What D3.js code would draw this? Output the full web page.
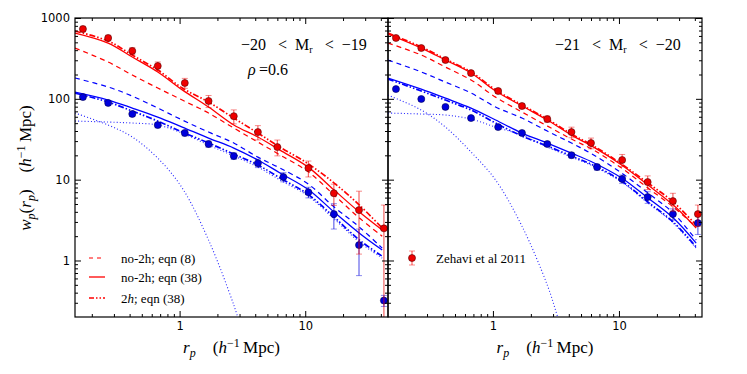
<script src="https://d3js.org/d3.v7.min.js"></script>

<svg id="vis"></svg>

<script>

  /***** DATA *****/

  // rp grid the model curves are read on (h^-1 Mpc)
  var rGrid = [0.147, 0.27, 0.42, 0.67, 1.05, 1.7, 2.7, 4.2, 6.3, 10.5, 17, 27, 41]

  // Zehavi et al 2011 points
  var rRed = [0.17, 0.27, 0.42, 0.67, 1.1, 1.7, 2.7, 4.2, 6.0, 10.6, 16.9, 26.8, 42.3]
  var rBlue = [0.17, 0.27, 0.42, 0.67, 1.1, 1.7, 2.7, 4.2, 6.7, 10.6, 16.9, 26.8, 42.3]

  // panel 1: -20 < Mr < -19
  var redObs1 = [731, 566, 391, 255, 157, 94, 61, 38.8, 25.3, 13.9, 6.8, 4.2, 2.5]
  var redErr1 = [58, 45, 39, 31, 22, 16, 12, 7.8, 5.6, 3.1, 2.0, 3.0, 2.35]
  var blueObs1 = [105, 89, 65, 47.4, 37.8, 27.6, 19.6, 16.0, 10.8, 7.0, 3.75, 1.55, 0.32]
  var blueErr1 = [5, 5, 4, 3.5, 3, 2.5, 1.8, 1.9, 1.4, 1.05, 1.3, 0.9, 0.05]

  var redDash1 = [425, 285, 197, 136, 96.6, 66.7, 43.5, 29.2, 20.2, 12.6, 6.45, 3.35, 2.0]
  var redSolid1 = [652, 490, 329, 215, 129, 79.2, 47.4, 33.7, 23.2, 14.4, 7.43, 3.97, 2.38]
  var redDdot1 = [690, 519, 348, 227, 136, 91.3, 57.8, 37.7, 25.3, 15.8, 9.08, 4.85, 2.52]
  var blueDash1 = [181, 140, 108, 76.9, 54.7, 38.8, 28.4, 19.0, 13.9, 8.9, 4.58, 2.59, 1.42]
  var blueSolid1 = [121, 96.6, 76.9, 59.5, 44.7, 32.7, 24.6, 17.5, 12.1, 7.6, 3.97, 2.18, 1.35]
  var blueDdot1 = [118, 91.3, 70.6, 53.1, 38.8, 28.4, 20.7, 15.2, 10.5, 6.6, 3.44, 1.79, 1.13]
  var blue2h1 = [53.1, 51.6, 50.2, 47.4, 37.7, 26.8, 19.6, 14.3, 9.89, 6.3, 3.26, 1.69, 1.07]
  var r1h1 = [0.147, 0.27, 0.42, 0.67, 1.05, 1.7, 2.7, 3.3]
  var blue1h1 = [66.7, 47.4, 33.7, 18.5, 7.87, 1.79, 0.281, 0.104]

  // panel 2: -21 < Mr < -20
  var redObs2 = [566, 425, 302, 208, 125, 81.5, 56.2, 38.8, 28.4, 17.5, 9.34, 5.43, 3.75]
  var redErr2 = [25, 20, 15, 12, 8, 6, 5, 5.8, 4.3, 3.0, 1.8, 1.35, 1.1]
  var blueObs2 = [132, 99.5, 79.4, 57.8, 44.7, 37.8, 27.6, 20.1, 14.3, 10.2, 6.09, 3.75, 2.9]
  var blueErr2 = [6, 4.5, 3.5, 2.5, 2, 2, 1.8, 1.5, 1.2, 1.2, 1.0, 0.6, 0.8]

  var redDash2 = [490, 348, 247, 171, 105, 68.6, 46.1, 31.8, 23.2, 13.9, 7.87, 4.58, 2.59]
  var redSolid2 = [634, 425, 302, 209, 125, 81.5, 54.7, 35.6, 25.3, 15.2, 8.58, 4.85, 2.52]
  var redDdot2 = [652, 438, 311, 215, 129, 83.8, 56.2, 36.7, 26.1, 15.6, 9.08, 5.28, 2.74]
  var blueDash2 = [302, 215, 161, 118, 79.2, 57.8, 39.9, 28.4, 20.2, 12.1, 6.83, 3.86, 1.79]
  var blueSolid2 = [181, 132, 102, 76.9, 54.7, 37.7, 28.4, 21.3, 16.2, 10.5, 5.92, 3.35, 1.64]
  var blueDdot2 = [176, 125, 96.6, 72.7, 50.2, 34.6, 26.1, 19.6, 15.0, 9.61, 5.28, 2.99, 1.47]
  var blue2h2 = [66.7, 64.9, 63.0, 56.2, 44.7, 35.6, 25.3, 19.0, 14.6, 9.34, 5.13, 2.9, 1.42]
  var r1h2 = [0.147, 0.27, 0.42, 0.67, 1.05, 1.7, 2.7, 3.26, 4.1]
  var blue1h2 = [111, 72.7, 44.7, 22.0, 9.89, 2.66, 0.496, 0.2, 0.058]

  var xTicks = [1, 10]
  var yTicks = [1, 10, 100, 1000]

  var legendLabels = ['no-2h; eqn (8)', 'no-2h; eqn (38)', '2h; eqn (38)']


  /***** SETUP *****/

  var width = 747
  var height = 374
  var plotTop = 18
  var plotH = 299

  var svg = d3.select('#vis')
    .attr('width', width)
    .attr('height', height)
    .style('background-color', 'white')

  var serif = 'Liberation Serif, DejaVu Serif, serif'
  var sans = 'DejaVu Sans, sans-serif'

  var styles = {
    dash: { w: 1.2, dash: '5,4' },
    solid: { w: 1.3, dash: null },
    ddot: { w: 1.7, dash: '6,2,1.5,2,1.5,2' },
    dot: { w: 1.1, dash: '1,2.2' }
  }

  function zip(rs, vs) {
    return rs.map(function (r, i) { return [r, vs[i]] })
  }

  // minor tick values for a log axis
  function minors(lo, hi) {
    var out = []
    for (var e = -2; e <= 3; e++) {
      for (var k = 2; k <= 9; k++) {
        var v = k * Math.pow(10, e)
        if (v > lo && v < hi) out.push(v)
      }
    }
    return out
  }

  function drawPanel(left, w, p, idx) {
    var g = svg.append('g').attr('transform', 'translate(' + left + ',' + plotTop + ')')

    var x = d3.scaleLog().domain([0.147, 45.6]).range([0, w])
    var y = d3.scaleLog().domain([0.2, 1000]).range([plotH, 0])

    g.append('clipPath').attr('id', 'clip' + idx)
      .append('rect').attr('width', w).attr('height', plotH)

    var plot = g.append('g').attr('clip-path', 'url(#clip' + idx + ')')

    var line = d3.line()
      .x(function (d) { return x(d[0]) })
      .y(function (d) { return y(d[1]) })
      .curve(d3.curveCatmullRom.alpha(0.5))

    // model curves
    p.curves.forEach(function (c) {
      var s = styles[c.kind]
      plot.append('path')
        .attr('d', line(zip(c.r || rGrid, c.v)))
        .attr('fill', 'none')
        .attr('stroke', c.color)
        .attr('stroke-width', s.w)
        .attr('stroke-dasharray', s.dash)
        .attr('opacity', c.kind == 'dot' ? 0.85 : 1)
    })

    // observed points with error bars
    p.points.forEach(function (s) {
      var pts = s.r.map(function (r, i) { return { r: r, v: s.v[i], e: s.e[i] } })
      var eg = plot.append('g')
      pts.forEach(function (d) {
        var lo = Math.max(d.v - d.e, 0.01)
        var cx = x(d.r)
        eg.append('line')
          .attr('x1', cx).attr('x2', cx)
          .attr('y1', y(d.v + d.e)).attr('y2', y(lo))
          .attr('stroke', s.color).attr('stroke-width', 1.2).attr('opacity', 0.6)
        ;[d.v + d.e, lo].forEach(function (yy) {
          eg.append('line')
            .attr('x1', cx - 3).attr('x2', cx + 3)
            .attr('y1', y(yy)).attr('y2', y(yy))
            .attr('stroke', s.color).attr('stroke-width', 1).attr('opacity', 0.45)
        })
      })
      plot.append('g').selectAll('circle')
        .data(pts)
        .enter()
        .append('circle')
        .attr('cx', function (d) { return x(d.r) })
        .attr('cy', function (d) { return y(d.v) })
        .attr('r', 3.5)
        .attr('fill', s.color)
        .attr('stroke', s.edge)
        .attr('stroke-width', 0.6)
    })

    // frame
    g.append('rect')
      .attr('width', w).attr('height', plotH)
      .attr('fill', 'none').attr('stroke', 'black').attr('stroke-width', 1.2)

    // ticks, all pointing inward
    var xMin = minors(0.147, 45.6)
    var yMin = minors(0.2, 1000)

    function tickAxes(axis, major, minor, transform, labels) {
      var a = g.append('g').attr('transform', transform)
        .call(axis.tickValues(major).tickSize(-6).tickPadding(5)
          .tickFormat(labels ? d3.format('d') : ''))
      a.select('.domain').remove()
      a.selectAll('text').style('font-family', sans).style('font-size', '11.5px').attr('fill', 'black')
      var b = g.append('g').attr('transform', transform)
        .call(axis.tickValues(minor).tickSize(-3).tickFormat(''))
      b.select('.domain').remove()
    }

    tickAxes(d3.axisBottom(x), xTicks, xMin, 'translate(0,' + plotH + ')', true)
    tickAxes(d3.axisTop(x), xTicks, xMin, 'translate(0,0)', false)
    tickAxes(d3.axisLeft(y), yTicks, yMin, 'translate(0,0)', p.yLabels)
    tickAxes(d3.axisRight(y), yTicks, yMin, 'translate(' + w + ',0)', false)

    // x label
    var xl = g.append('text')
      .attr('x', w / 2).attr('y', 335)
      .attr('text-anchor', 'middle')
      .style('font-family', serif).style('font-size', '17px')
    xl.append('tspan').text('r').style('font-style', 'italic')
    xl.append('tspan').text('p').style('font-style', 'italic').style('font-size', '12px').attr('dy', 4)
    xl.append('tspan').text('\u2003(').attr('dy', -4)
    xl.append('tspan').text('h').style('font-style', 'italic')
    xl.append('tspan').text('\u22121').style('font-size', '12px').attr('dy', -6)
    xl.append('tspan').text('\u2009Mpc)').attr('dy', 6)

    // luminosity bin label
    var t = g.append('text')
      .attr('x', p.titleX).attr('y', 32)
      .style('font-family', serif).style('font-size', '16px')
    t.append('tspan').text(p.title[0] + '\u2002 <\u2002M')
    t.append('tspan').text('r').style('font-size', '10px').attr('dy', 3)
    t.append('tspan').text('\u2002 <\u2002' + p.title[1]).attr('dy', -3)

    return { g: g, x: x, y: y }
  }


  /***** PANELS *****/

  var red = '#ff0000'
  var blue = '#0000ff'

  var p1 = drawPanel(75, 313, {
    title: ['\u221220', '\u221219'],
    titleX: 166,
    yLabels: true,
    curves: [
      { kind: 'dot', color: blue, r: r1h1, v: blue1h1 },
      { kind: 'dot', color: blue, v: blue2h1 },
      { kind: 'dash', color: blue, v: blueDash1 },
      { kind: 'solid', color: blue, v: blueSolid1 },
      { kind: 'ddot', color: blue, v: blueDdot1 },
      { kind: 'dash', color: red, v: redDash1 },
      { kind: 'solid', color: red, v: redSolid1 },
      { kind: 'ddot', color: red, v: redDdot1 }
    ],
    points: [
      { r: rBlue, v: blueObs1, e: blueErr1, color: '#0000dd', edge: '#000055' },
      { r: rRed, v: redObs1, e: redErr1, color: '#ee0000', edge: '#550000' }
    ]
  }, 1)

  var p2 = drawPanel(388, 314, {
    title: ['\u221221', '\u221220'],
    titleX: 167,
    yLabels: false,
    curves: [
      { kind: 'dot', color: blue, r: r1h2, v: blue1h2 },
      { kind: 'dot', color: blue, v: blue2h2 },
      { kind: 'dash', color: blue, v: blueDash2 },
      { kind: 'solid', color: blue, v: blueSolid2 },
      { kind: 'ddot', color: blue, v: blueDdot2 },
      { kind: 'dash', color: red, v: redDash2 },
      { kind: 'solid', color: red, v: redSolid2 },
      { kind: 'ddot', color: red, v: redDdot2 }
    ],
    points: [
      { r: rBlue, v: blueObs2, e: blueErr2, color: '#0000dd', edge: '#000055' },
      { r: rRed, v: redObs2, e: redErr2, color: '#ee0000', edge: '#550000' }
    ]
  }, 2)

  // rho label
  var rho = p1.g.append('text')
    .attr('x', 173).attr('y', 57)
    .style('font-family', serif).style('font-size', '16px')
  rho.append('tspan').text('\u03c1').style('font-style', 'italic')
  rho.append('tspan').text('\u2009=0.6')

  // y label
  var yl = svg.append('text')
    .attr('transform', 'translate(31,168) rotate(-90)')
    .attr('text-anchor', 'middle')
    .style('font-family', serif).style('font-size', '17px')
  yl.append('tspan').text('w').style('font-style', 'italic')
  yl.append('tspan').text('p').style('font-style', 'italic').style('font-size', '12px').attr('dy', 4)
  yl.append('tspan').text('(').attr('dy', -4)
  yl.append('tspan').text('r').style('font-style', 'italic')
  yl.append('tspan').text('p').style('font-style', 'italic').style('font-size', '12px').attr('dy', 4)
  yl.append('tspan').text(')\u2003(').attr('dy', -4)
  yl.append('tspan').text('h').style('font-style', 'italic')
  yl.append('tspan').text('\u22121').style('font-size', '12px').attr('dy', -6)
  yl.append('tspan').text('\u2009Mpc)').attr('dy', 6)


  /***** LEGENDS *****/

  var leg = svg.append('g').attr('transform', 'translate(89,258)')
  ;['dash', 'solid', 'ddot'].forEach(function (k, i) {
    var s = styles[k]
    var yy = [0, 19, 40][i]
    leg.append('line')
      .attr('x1', 0).attr('x2', 16).attr('y1', yy).attr('y2', yy)
      .attr('stroke', red).attr('stroke-width', s.w)
      .attr('stroke-dasharray', k == 'dash' ? '4,4' : (k == 'ddot' ? '5,2,1.5,2,1.5,2' : null))
    var tx = leg.append('text')
      .attr('x', 32).attr('y', yy + 4.5)
      .style('font-family', serif).style('font-size', '13px')
    if (k == 'ddot') {
      tx.append('tspan').text('2')
      tx.append('tspan').text('h').style('font-style', 'italic')
      tx.append('tspan').text('; eqn (38)')
    } else {
      tx.text(legendLabels[i])
    }
  })

  var leg2 = svg.append('g').attr('transform', 'translate(412,258)')
  leg2.append('line').attr('x1', 0).attr('x2', 0).attr('y1', -7).attr('y2', 7)
    .attr('stroke', red).attr('stroke-width', 1.2).attr('opacity', 0.6)
  ;[-7, 7].forEach(function (yy) {
    leg2.append('line').attr('x1', -3).attr('x2', 3).attr('y1', yy).attr('y2', yy)
      .attr('stroke', red).attr('opacity', 0.45)
  })
  leg2.append('circle').attr('r', 3.5).attr('fill', '#ee0000')
    .attr('stroke', '#550000').attr('stroke-width', 0.6)
  leg2.append('text').attr('x', 24).attr('y', 4.5)
    .style('font-family', serif).style('font-size', '13px')
    .text('Zehavi et al 2011')

</script>

<body style="margin: 0;"></body>
